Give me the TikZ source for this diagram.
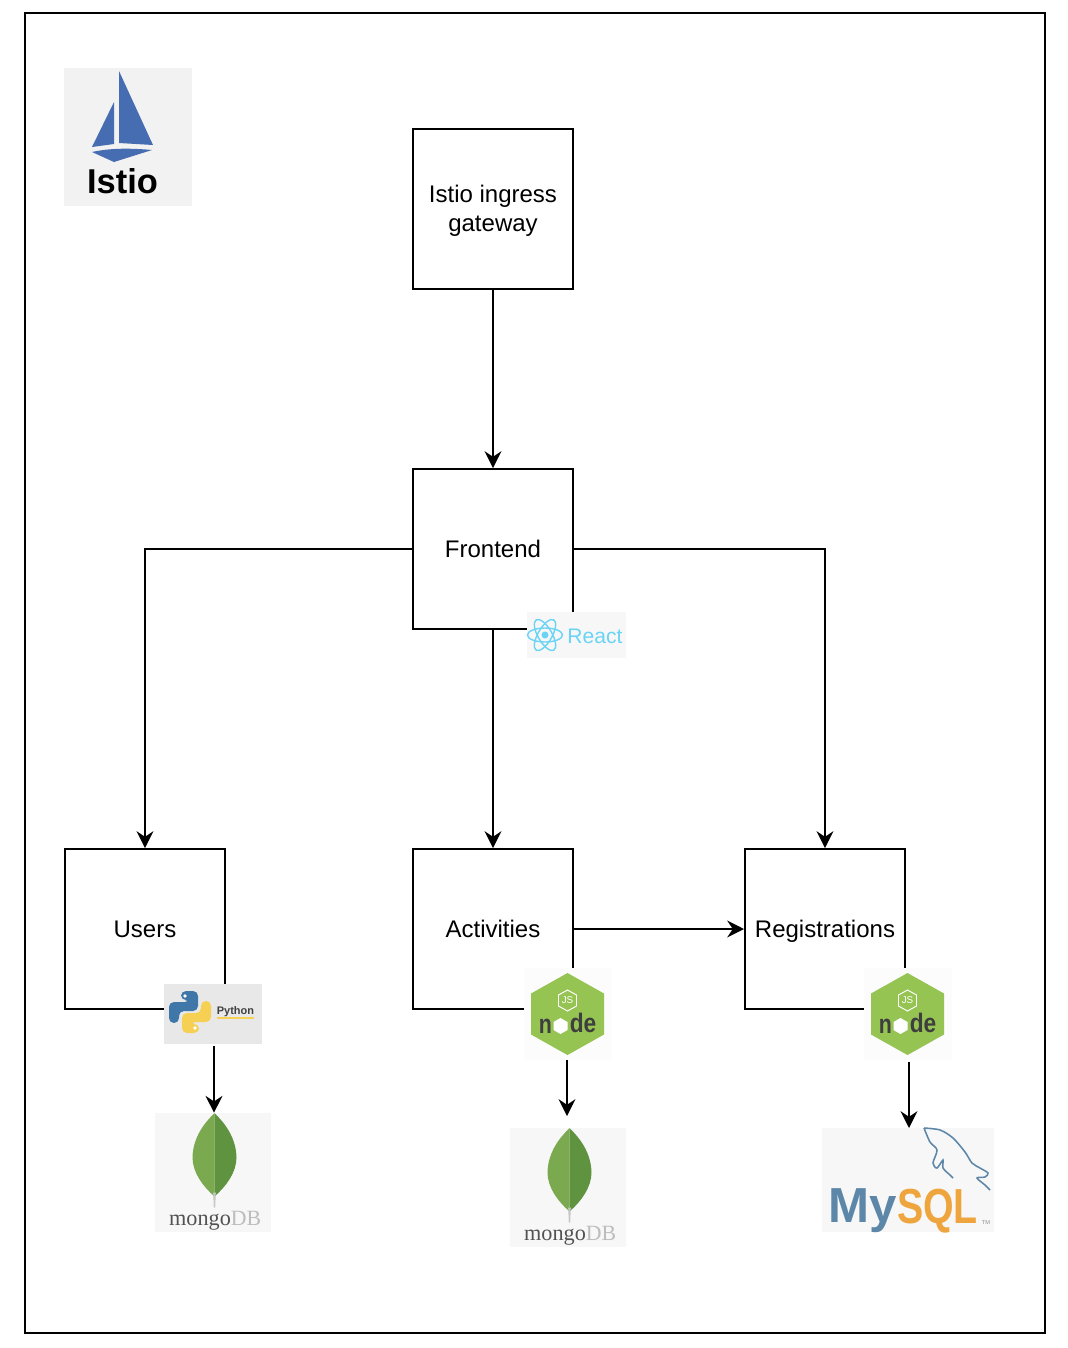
\documentclass[tikz,border=0pt]{standalone}
\usepackage{fontspec}
\setmainfont{Liberation Sans}
\newfontfamily\mongofont{Liberation Serif}
\usetikzlibrary{arrows.meta}

\definecolor{istioblue}{HTML}{466CB2}
\definecolor{reactblue}{HTML}{6BD4F5}
\definecolor{pyblue}{HTML}{3F77A9}
\definecolor{pyyellow}{HTML}{F6D052}
\definecolor{leaflight}{HTML}{7BA950}
\definecolor{leafdark}{HTML}{60933F}
\definecolor{nodegreen}{HTML}{95C453}
\definecolor{nodedark}{HTML}{3E3E3E}
\definecolor{sqlblue}{HTML}{5D87A8}
\definecolor{sqlorange}{HTML}{EFA53E}

\tikzset{
    svcbox/.style={draw, line width=1.4pt, minimum size=4cm, align=center,
                   font=\fontsize{17.07}{20.6}\selectfont},
    conn/.style={draw, line width=1.4pt, -{Stealth[length=4.2mm, width=4.2mm, inset=1.4mm]}},
    logobox/.style={inner sep=0pt, outer sep=0pt},
    mongologo/.pic={
        \node[logobox, fill=black!3, minimum width=2.9cm, minimum height=2.99cm] (-box) at (0,0) {};
        \fill[leaflight] (1.5,-59.5) .. controls (-8,-50) and (-20,-36) .. (-20.5,-15)
                         .. controls (-20.5,0) and (-10,14) .. (1.5,24) -- cycle;
        \fill[leafdark]  (1.5,-59.5) .. controls (11,-50) and (23,-36) .. (23.5,-15)
                         .. controls (23.5,0) and (13,14) .. (1.5,24) -- cycle;
        \fill[black!22] (0.2,20) -- (2.8,20) -- (2.2,35) -- (0.8,35) -- cycle;
        \node[inner sep=0pt, text=black!68, font=\mongofont\fontsize{15.8}{15.8}\selectfont] (-mongo)
            at (-13,50) {mongo};
        \node[inner sep=0pt, text=black!26, font=\mongofont\fontsize{15.5}{15.5}\selectfont] (-db)
            at (33,46) {DB};
    },
    nodelogo/.pic={
        \node[logobox, fill=black!1, minimum width=2.2cm, minimum height=2.3cm] (-box) at (0,0) {};
        \fill[nodegreen] (0,-41) -- (36.5,-20.5) -- (36.5,20.5) -- (0,41) -- (-36.5,20.5) -- (-36.5,-20.5) -- cycle;
        \draw[white, line width=.7pt] (0,-24) -- (9,-19) -- (9,-8) -- (0,-3) -- (-9,-8) -- (-9,-19) -- cycle;
        \node[inner sep=0pt, text=white, font=\fontsize{7}{7}\selectfont] (-js) at (0,-13.5) {JS};
        \node[inner sep=0pt, text=nodedark, xscale=.8, transform shape,
              font=\bfseries\fontsize{19}{19}\selectfont] (-n) at (-22,12) {n};
        \fill[white] (-7,4) -- (0,8) -- (0,16) -- (-7,20) -- (-14,16) -- (-14,8) -- cycle;
        \node[inner sep=0pt, text=nodedark, xscale=.85, transform shape,
              font=\bfseries\fontsize{19}{19}\selectfont] (-de) at (15.5,9) {de};
    }
}

\begin{document}
\begin{tikzpicture}[x=.25mm, y=-.25mm]
    \useasboundingbox (0,0) rectangle (1068,1348);
    \draw[line width=1.4pt] (25,13) rectangle (1045,1333);

    \node[svcbox] (gateway)  at (493,209) {Istio ingress\\\raisebox{0pt}[\height][1.5pt]{gateway}};
    \node[svcbox] (frontend) at (493,549) {Frontend};
    \node[svcbox] (users)    at (145,929) {Users};
    \node[svcbox] (activities) at (493,929) {Activities};
    \node[svcbox] (registrations) at (825,929) {\raisebox{0pt}[\height][0pt]{Registrations}};

    \draw[conn] (gateway) -- (frontend);
    \draw[conn] (frontend.west) -| (users.north);
    \draw[conn] (frontend) -- (activities);
    \draw[conn] (frontend.east) -| (registrations.north);
    \draw[conn] (activities) -- (registrations);

    % istio
    \node[logobox, fill=black!5, minimum width=3.2cm, minimum height=3.45cm] (istiobox) at (128,137) {};
    \fill[istioblue] (119,71) -- (153,145) -- (119,143) -- cycle;
    \fill[istioblue] (114,102) -- (114,144) -- (92,147) -- cycle;
    \fill[istioblue] (92,152) .. controls (110,148) and (130,148) .. (152,150) -- (114,162) -- cycle;
    \node[inner sep=0pt, font=\bfseries\fontsize{24.5}{24.5}\selectfont] (istiotext) at (122.5,181) {Istio};

    % react
    \node[logobox, fill=black!3, minimum width=2.475cm, minimum height=1.15cm] (reactbox) at (576.5,635) {};
    \foreach \ang in {0,60,120}
        \draw[reactblue, line width=1pt, rotate around={\ang:(545,635)}] (545,635) ellipse (17.5 and 7);
    \fill[reactblue] (545,635) circle (3.5);
    \node[inner sep=0pt, text=reactblue, font=\fontsize{15}{15}\selectfont] (reacttext) at (595,636) {React};

    % python
    \node[logobox, fill=black!9, minimum width=2.45cm, minimum height=1.5cm] (pybox) at (213,1014) {};
    \fill[pyblue, rounded corners=3.5pt] (181,991) -- (198,991) -- (198,1011) -- (179,1011) -- (179,1023)
        -- (169,1023) -- (169,1002) -- (190,1002) -- (190,1000) -- (181,1000) -- cycle;
    \fill[pyyellow, rounded corners=3.5pt, rotate around={180:(190,1012)}] (181,991) -- (198,991) -- (198,1011) -- (179,1011) -- (179,1023)
        -- (169,1023) -- (169,1002) -- (190,1002) -- (190,1000) -- (181,1000) -- cycle;
    \fill[white] (185,996) circle (1.8);
    \fill[white] (195,1028) circle (1.8);
    \node[inner sep=0pt, text=black!75, font=\bfseries\fontsize{7.8}{7.8}\selectfont] (pytext) at (235.5,1012) {Python};
    \draw[pyyellow, line width=1pt] (217,1018) -- (254,1018);
    \coordinate (pyout) at (214,1046);

    % node
    \pic (nodea) at (567.5,1014) {nodelogo};
    \pic (nodeb) at (907.5,1014) {nodelogo};
    \coordinate (nodeaout) at (567,1060);
    \coordinate (nodebout) at (909,1062);

    % databases
    \pic (mongoa) at (213,1172.5) {mongologo};
    \pic (mongob) at (568,1187.5) {mongologo};
    \coordinate (mongobin) at (567,1116);

    \node[logobox, fill=black!3, minimum width=4.3cm, minimum height=2.6cm] (mysqlbox) at (908,1180) {};
    \draw[sqlblue, line width=1.1pt] plot[smooth] coordinates {(924,1128) (940,1130) (953,1138) (965,1152)
        (972,1163) (980,1168) (988,1173) (985,1177) (977,1178) (985,1185) (990,1190)};
    \draw[sqlblue, line width=1.1pt] plot[smooth] coordinates {(924,1128) (930,1142) (937,1150) (933,1163)
        (937,1168) (943,1160) (943,1168) (950,1175) (953,1178)};
    \node[inner sep=0pt, text=sqlblue, font=\bfseries\fontsize{35}{35}\selectfont]
        (mytext) at (862.5,1211) {My};
    \node[inner sep=0pt, text=sqlorange, font=\bfseries\fontsize{35}{35}\selectfont, xscale=.8, transform shape]
        (sqltext) at (937.5,1211) {SQL};
    \node[inner sep=0pt, text=black!45, font=\fontsize{4}{4}\selectfont] (tmtext) at (986,1223) {TM};

    \draw[conn] (pyout) -- (pyout |- mongoa-box.north);
    \draw[conn] (nodeaout) -- (mongobin);
    \draw[conn] (nodebout) -- (nodebout |- mysqlbox.north);
\end{tikzpicture}
\end{document}
